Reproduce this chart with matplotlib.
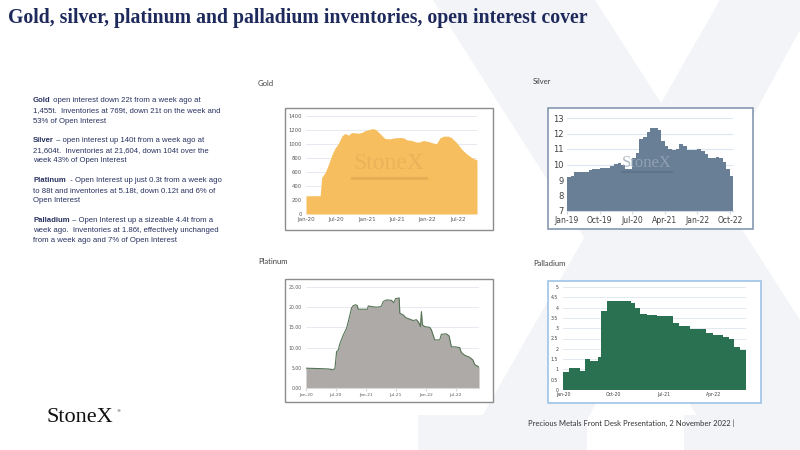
import matplotlib.pyplot as plt
from matplotlib.patches import Rectangle, Polygon
import numpy as np

plt.switch_backend('AGG')

# ---- data (months counted from the first tick of each chart) ----
gold_month = [0, 2.8, 3.1, 3.8, 4.4, 5.1, 5.7, 6.4, 7.1, 7.7, 8.4, 9.0, 9.7, 10.4,
              11.0, 11.7, 12.7, 13.3, 13.8, 14.6, 15.6, 16.6, 17.6, 18.6, 19.3, 19.9,
              20.9, 21.9, 22.5, 23.2, 24.2, 25.2, 25.8, 26.5, 27.2, 28.1, 28.8, 29.8,
              30.8, 31.8, 32.8, 33.8]
gold_tonnes = [260, 262, 520, 596, 700, 842, 937, 1007, 1116, 1150, 1126, 1164, 1159, 1154,
               1164, 1192, 1211, 1220, 1206, 1150, 1078, 1074, 1088, 1093, 1088, 1060,
               1050, 1026, 1031, 1050, 1036, 1012, 1007, 1088, 1112, 1112, 1088, 1017,
               923, 856, 804, 771]
gold_ticks = ['Jan-20', 'Jul-20', 'Jan-21', 'Jul-21', 'Jan-22', 'Jul-22']

silver_values = [9.22, 9.28, 9.50, 9.54, 9.50, 9.52, 9.63, 9.70, 9.74, 9.78, 9.78, 9.78,
                 9.91, 10.02, 10.07, 9.95, 9.74, 9.72, 10.39, 10.72, 11.63, 11.80, 12.09,
                 12.33, 12.37, 12.24, 11.50, 11.20, 10.98, 10.93, 11.00, 11.30, 11.22,
                 10.95, 10.93, 10.95, 11.00, 10.89, 10.65, 10.39, 10.43, 10.46, 10.43,
                 10.17, 9.70, 9.28]
silver_end = 45.8
silver_ticks = ['Jan-19', 'Oct-19', 'Jul-20', 'Apr-21', 'Jan-22', 'Oct-22']

plat_month = [0, 2.8, 4.47, 5.47, 5.8, 6.13, 6.47, 6.8, 7.47, 8.13, 8.47, 8.8, 9.13, 9.47,
              10.0, 10.27, 10.47, 12.33, 12.47, 13.47, 14.13, 14.8, 15.13, 15.47, 16.13,
              17.13, 17.6, 17.93, 18.67, 18.8, 19.47, 20.0, 20.67, 21.47, 22.13, 22.6,
              22.93, 23.13, 23.33, 23.8, 24.8, 25.13, 25.47, 25.8, 26.8, 27.13, 28.13,
              28.67, 29.13, 29.8, 30.8, 31.13, 31.8, 32.8, 33.47, 33.8, 34.67]
plat_tonnes = [4.9, 4.8, 4.7, 4.5, 4.8, 9.0, 9.4, 11.0, 13.1, 14.8, 16.4, 18.1, 19.8, 20.4,
               20.6, 20.4, 19.5, 19.5, 20.3, 20.1, 20.0, 20.1, 20.3, 21.4, 21.8,
               21.7, 21.1, 22.1, 22.3, 18.5, 18.1, 17.4, 17.1, 16.7, 16.9, 16.2,
               15.2, 18.9, 15.6, 15.2, 15.0, 14.4, 13.1, 11.9, 11.9, 13.3, 13.4,
               12.9, 10.2, 10.2, 10.0, 8.8, 8.1, 7.6, 6.9, 5.8, 5.2]
plat_ticks = ['Jan-20', 'Jul-20', 'Jan-21', 'Jul-21', 'Jan-22', 'Jul-22']

pall_month = [0, 1.0, 3.0, 3.9, 4.9, 6.2, 6.9, 7.9, 12.2, 12.9, 13.8, 15.0, 16.8, 19.8,
              20.8, 22.8, 23.8, 25.7, 26.8, 28.7, 29.8, 30.7, 31.7, 32.8]
pall_tonnes = [0.89, 1.06, 0.91, 1.49, 1.41, 1.62, 3.83, 4.30, 4.24, 3.98, 3.69, 3.64, 3.57,
               3.23, 3.13, 2.97, 2.94, 2.79, 2.68, 2.55, 2.50, 2.11, 1.96, 1.96]
pall_ticks = ['Jan-20', 'Oct-20', 'Jul-21', 'Apr-22']

notes = [
    ('Gold', ' open interest down 22t from a week ago at',
     ['1,455t.  Inventories at 769t, down 21t on the week and', '53% of Open Interest']),
    ('Silver', ' \u2013 open interest up 140t from a week ago at',
     ['21,604t.  Inventories at 21,604, down 104t over the', 'week 43% of Open Interest']),
    ('Platinum', '  - Open Interest up just 0.3t from a week ago',
     ['to 88t and inventories at 5.18t, down 0.12t and 6% of', 'Open Interest']),
    ('Palladium', ' \u2013 Open Interest up a sizeable 4.4t from a',
     ['week ago.  Inventories at 1.86t, effectively unchanged',
      'from a week ago and 7% of Open Interest']),
]

W, H = 800, 450
NAVY = '#283261'
fig = plt.figure(figsize=(8, 4.5), dpi=100)
fig.patch.set_facecolor('white')


def px(x, y):
    return (x / W, 1 - y / H)


def rect(x0, y0, x1, y1):
    return [x0 / W, 1 - y1 / H, (x1 - x0) / W, (y1 - y0) / H]


# big pale "X" watermark in the background
wm = '#f3f4f7'
for pts in [
    [(433, 0), (595, 0), (800, 320), (800, 420), (700, 420)],
    [(720, 0), (800, 0), (800, 30), (587, 420), (480, 420)],
    [(418, 415), (587, 415), (587, 450), (418, 450)],
    [(684, 415), (800, 415), (800, 450), (684, 450)],
]:
    fig.add_artist(Polygon([px(*p) for p in pts], closed=True, transform=fig.transFigure,
                           facecolor=wm, edgecolor='none', zorder=0))


def panel(frame, plot, edge, lw=1.0):
    x0, y0, x1, y1 = frame
    fig.add_artist(Rectangle(px(x0, y1), (x1 - x0) / W, (y1 - y0) / H,
                             transform=fig.transFigure, facecolor='white',
                             edgecolor=edge, lw=lw, zorder=1))
    ax = fig.add_axes(rect(*plot))
    ax.set_zorder(2)
    ax.patch.set_alpha(0)
    for s in ax.spines.values():
        s.set_visible(False)
    return ax


# ---- Gold ----
ax = panel((285, 108, 493, 230), (306, 116, 477, 214), '#8c8c8c')
ax.fill_between(gold_month, gold_tonnes, color='#f6be5e', lw=0, zorder=2)
ax.set_xlim(0, gold_month[-1])
ax.set_ylim(0, 1400)
ax.set_yticks(range(0, 1401, 200))
ax.set_xticks(range(0, 31, 6), gold_ticks)
ax.grid(axis='y', color='#e2e5ef', lw=0.6, zorder=0)
ax.tick_params(length=0, labelsize=3.8, colors='#595959', pad=3)
ax.tick_params(axis='x', pad=2.5, labelsize=4)
ax.text(0.485, 0.52, 'StoneX', transform=ax.transAxes, ha='center', va='center',
        family='Liberation Serif', fontsize=17, color='#e6ae58', alpha=0.7, zorder=3)
ax.plot([0.27, 0.70], [0.37, 0.37], transform=ax.transAxes, color='#d9a24e', lw=2.2,
        alpha=0.5, zorder=3)

# ---- Silver ----
ax = panel((548, 108, 753, 229), (567, 118, 733, 211), '#8497b0', 1.2)
sm = list(range(len(silver_values))) + [silver_end]
sv = silver_values + [silver_values[-1]]
ax.fill_between(sm, sv, 7, step='post', color='#687f96', lw=0, zorder=2)
ax.set_xlim(0, silver_end)
ax.set_ylim(7, 13)
ax.set_yticks(range(7, 14))
ax.set_xticks(range(0, 46, 9), silver_ticks)
ax.grid(axis='y', color='#dce6f2', lw=0.8, zorder=0)
ax.spines['bottom'].set_visible(True)
ax.spines['bottom'].set_color('#d0d8e4')
ax.tick_params(axis='y', length=0, labelsize=6, colors='#404040', pad=2.5)
ax.tick_params(axis='x', length=2, color='#d0d8e4', labelsize=5.5, labelcolor='#404040', pad=1.5)
ax.text(0.48, 0.52, 'StoneX', transform=ax.transAxes, ha='center', va='center',
        family='Liberation Serif', fontsize=12, color='#9aa8b8', alpha=0.8, zorder=3)
ax.plot([0.33, 0.63], [0.42, 0.42], transform=ax.transAxes, color='#5a6e82', lw=1.5,
        alpha=0.6, zorder=3)

# ---- Platinum ----
ax = panel((285, 279, 493, 402), (306, 287, 479, 388), '#8c8c8c')
ax.fill_between(plat_month, plat_tonnes, color='#aeaaa8', lw=0, zorder=2)
ax.plot(plat_month, plat_tonnes, color='#557355', lw=0.8, zorder=3)
ax.set_xlim(0, plat_month[-1])
ax.set_ylim(0, 25)
ax.set_yticks(range(0, 26, 5), [f'{v:.2f}' for v in range(0, 26, 5)])
ax.set_xticks(range(0, 31, 6), plat_ticks)
ax.grid(axis='y', color='#e4e6f0', lw=0.6, zorder=0)
ax.spines['bottom'].set_visible(True)
ax.spines['bottom'].set_color('#d9d9d9')
ax.tick_params(axis='y', length=0, labelsize=3.3, colors='#595959', pad=3)
ax.tick_params(axis='x', length=2, color='#d9d9d9', labelsize=3.2, labelcolor='#595959', pad=1.5)

# ---- Palladium ----
ax = panel((548, 281, 761, 403), (563, 287, 746, 390), '#9dc3e6', 1.2)
ax.fill_between(pall_month, pall_tonnes, step='post', color='#2a7152', lw=0, zorder=2)
ax.set_xlim(0, pall_month[-1])
ax.set_ylim(0, 5)
yt = np.arange(0, 5.01, 0.5)
ax.set_yticks(yt, [f'{v:g}' for v in yt])
ax.set_xticks(range(0, 28, 9), pall_ticks)
ax.grid(axis='y', color='#dde5ef', lw=0.6, zorder=0)
ax.tick_params(length=0, labelsize=3.3, colors='#404040', pad=3.5)
ax.tick_params(axis='x', pad=1.5)

# ---- panel captions ----
for name, (x, y) in [('Gold', (258, 84)), ('Silver', (533, 82)),
                     ('Platinum', (258, 262)), ('Palladium', (533, 263))]:
    fig.text(*px(x, y), name, family='Lato', fontsize=5.5, color='#404040',
             va='center', ha='left')

# ---- title, notes, footer ----
fig.text(*px(8, 18), 'Gold, silver, platinum and palladium inventories, open interest cover',
         family='Liberation Serif', weight='bold', fontsize=14.2, color='#1f2a5c',
         va='center', ha='left')

renderer = fig.canvas.get_renderer()
para_y = [101, 141, 181, 221]
for (head, rest, more), y in zip(notes, para_y):
    t = fig.text(*px(33, y), head, family='Liberation Sans', weight='bold', fontsize=5.6,
                 color=NAVY, va='center', ha='left')
    bb = t.get_window_extent(renderer)
    fig.text(*px(33 + bb.width, y), rest, family='Liberation Sans', fontsize=5.6,
             color=NAVY, va='center', ha='left')
    for i, line in enumerate(more, start=1):
        fig.text(*px(33, y + 10 * i), line, family='Liberation Sans', fontsize=5.6,
                 color=NAVY, va='center', ha='left')

fig.text(*px(47, 418), 'StoneX', family='Liberation Serif', fontsize=16, color='#111111',
         va='center', ha='left')
fig.text(*px(116, 411), '\u00ae', family='DejaVu Sans', fontsize=3, color='#111111',
         va='center', ha='left')
fig.text(*px(528, 423), 'Precious Metals Front Desk Presentation, 2 November 2022 |',
         family='Lato', fontsize=5.5, color='#333333', va='center', ha='left')

fig.savefig('out.png', dpi=100)
plt.close(fig)
